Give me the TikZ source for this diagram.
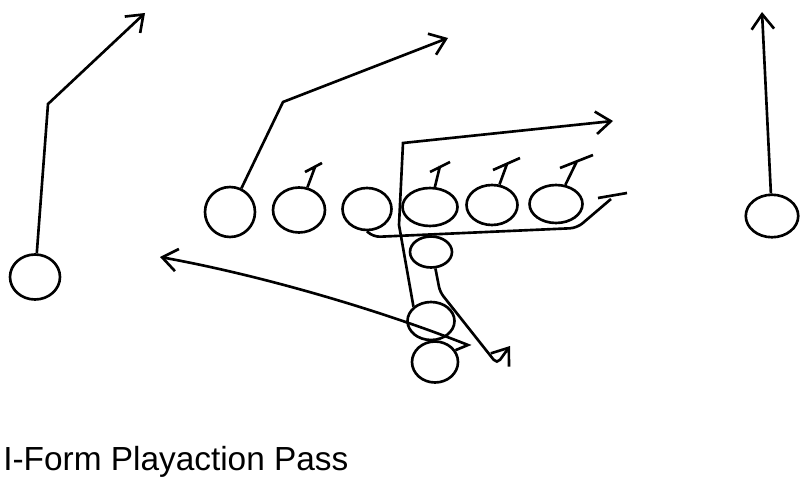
\documentclass[tikz,border=0pt]{standalone}
\usepackage{fontspec}
\setsansfont{Liberation Sans}
\usetikzlibrary{shapes.geometric, arrows.meta}

\begin{document}
\begin{tikzpicture}[x=0.02cm, y=-0.02cm,
		every node/.style={ellipse, draw, inner sep=0pt},
		every path/.style={>={Straight Barb[length=3mm,width=4.5mm]}, line width=1.5pt},
		player/.style 2 args={minimum width=#1cm, minimum height=#2cm}]
	\useasboundingbox[fill=white] (0,0) rectangle (800,489);

	% receivers
	\node[player={1.0}{0.9}] (WRL) at (35,277) {};
	\node[player={1.05}{0.85}] (WRR) at (772,216) {};

	% line
	\node[player={1.0}{1.0}] (L1) at (230,212) {};
	\node[player={1.04}{0.9}] (L2) at (299,210) {};
	\node[player={0.98}{0.84}] (L3) at (367,209) {};
	\node[player={1.1}{0.76}] (L4) at (430,207) {};
	\node[player={1.02}{0.8}] (L5) at (492,205) {};
	\node[player={1.06}{0.76}] (L6) at (556,204) {};

	% backfield
	\node[player={0.84}{0.62}] (QB) at (431,252) {};
	\node[player={0.94}{0.76}] (FB) at (431,321) {};
	\node[player={0.92}{0.82}] (TB) at (435,362) {};

	\coordinate (wrlcut) at (48,104);
	\coordinate (wrlend) at (145,13);
	\coordinate (wrrend) at (762,12);
	\coordinate (l1cut) at (283,102);
	\coordinate (l1end) at (448,38);
	\coordinate (b2) at (315,167);
	\coordinate (b4) at (440,166);
	\coordinate (b5) at (507,164);
	\coordinate (b6) at (577,161);
	\coordinate (l3a) at (373,237);
	\coordinate (l3b) at (577,228);
	\coordinate (l3c) at (611,199);
	\coordinate (l3barl) at (598,198);
	\coordinate (l3barr) at (627,193);
	\coordinate (fbmid) at (399,225);
	\coordinate (fbcut) at (403,143);
	\coordinate (fbend) at (613,121);
	\coordinate (qbb) at (440,292);
	\coordinate (qbturn) at (497,364);
	\coordinate (qbend) at (510,346);
	\coordinate (tbhook) at (468,345);
	\coordinate (tbend) at (160,257);

	% routes
	\draw[->] (WRL) -- (wrlcut) -- (wrlend);
	\draw[->] (WRR) -- (wrrend);
	\draw[->] (L1) -- (l1cut) -- (l1end);
	\draw[->] (FB.north west) -- (fbmid) -- (fbcut) -- (fbend);
	\draw[->, rounded corners=3pt] (QB.-75) -- (qbb) -- (qbturn) -- (qbend);
	\draw[->] (TB.30) -- (tbhook) .. controls (380,310) and (260,275) .. (tbend);

	% blocks
	\draw (L2) -- (b2) +(-10,5) -- +(7,-4);
	\draw (L4) -- (b4) +(-10,6) -- +(10,-4);
	\draw (L5) -- (b5) +(-14,6) -- +(13,-6);
	\draw (L6) -- (b6) +(-17,7) -- +(16,-6);
	\draw[rounded corners=4pt] (L3.south) -- (l3a) -- (l3b) -- (l3c);
	\draw (l3barl) -- (l3barr);

	\node[draw=none, rectangle, anchor=base west, font=\sffamily\fontsize{19}{19}\selectfont] (title) at (2,470) {I-Form Playaction Pass};
\end{tikzpicture}
\end{document}
